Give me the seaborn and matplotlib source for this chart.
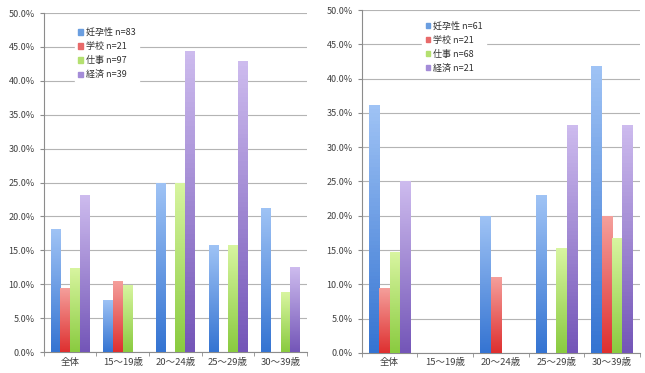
import numpy as np
import pandas as pd
import matplotlib
matplotlib.use("Agg")
import matplotlib.pyplot as plt
import matplotlib.colors as mcolors
from matplotlib.ticker import MultipleLocator, FuncFormatter
import seaborn as sns

ages = ["全体", "15～19歳", "20～24歳", "25～29歳", "30～39歳"]
series = ["妊孕性", "学校", "仕事", "経済"]

left_n = [83, 21, 97, 39]
left_fertility = [18.1, 7.7, 25.0, 15.8, 21.3]
left_school = [9.5, 10.5, 0.0, 0.0, 0.0]
left_work = [12.4, 9.9, 25.0, 15.8, 8.8]
left_economy = [23.1, 0.0, 44.4, 42.9, 12.5]

right_n = [61, 21, 68, 21]
right_fertility = [36.1, 0.0, 20.0, 23.0, 41.9]
right_school = [9.5, 0.0, 11.1, 0.0, 20.0]
right_work = [14.7, 0.0, 0.0, 15.3, 16.7]
right_economy = [25.0, 0.0, 0.0, 33.3, 33.3]

# (top colour, bottom colour) of Excel-like gradient fills
grad = {
    "妊孕性": ("#9fc3f5", "#3574d2"),
    "学校": ("#f5a09c", "#de3030"),
    "仕事": ("#d8f5a0", "#8acb40"),
    "経済": ("#cdbbee", "#7456b8"),
}
legend_col = {"妊孕性": "#6a9ee0", "学校": "#e86a6a", "仕事": "#b4e070", "経済": "#a48cd8"}

sns.set_style("white")
plt.rcParams["font.family"] = ["Noto Sans CJK JP", "DejaVu Sans"]


def make_df(vals, n):
    rows = []
    for s, v, k in zip(series, vals, n):
        lab = f"{s} n={k}"
        for a, x in zip(ages, v):
            rows.append({"age": a, "series": lab, "pct": x})
    return pd.DataFrame(rows)


def draw(ax, df):
    labels = list(df["series"].unique())
    pal = {lab: grad[s][1] for lab, s in zip(labels, series)}
    sns.barplot(data=df, x="age", y="pct", hue="series", palette=pal,
                width=0.74, ax=ax, saturation=1, errorbar=None, legend=True)
    # gradient overlay on each bar
    for cont, s in zip(ax.containers, series):
        cmap = mcolors.LinearSegmentedColormap.from_list("g", [grad[s][1], grad[s][0]])
        for p in cont.patches:
            h = p.get_height()
            if h <= 0:
                p.set_visible(False)
                continue
            x0 = p.get_x()
            w = p.get_width()
            p.set_alpha(0)
            g = np.linspace(0, 1, 64).reshape(-1, 1)
            im = ax.imshow(g, cmap=cmap, origin="lower", aspect="auto",
                           extent=(x0, x0 + w, 0, h), zorder=3)
            im.set_clip_path(p)
    ax.set_xlim(-0.5, 4.5)
    ax.set_ylim(0, 50)
    ax.yaxis.set_major_locator(MultipleLocator(5))
    ax.yaxis.set_major_formatter(FuncFormatter(lambda v, _: f"{v:.1f}%"))
    ax.grid(axis="y", color="#b4b4b4", linewidth=0.8, zorder=0)
    ax.set_axisbelow(True)
    ax.set_xlabel("")
    ax.set_ylabel("")
    for sp in ["top", "right"]:
        ax.spines[sp].set_visible(False)
    for sp in ["left", "bottom"]:
        ax.spines[sp].set_color("#8c8c8c")
        ax.spines[sp].set_linewidth(0.8)
    ax.set_xticks(np.arange(-0.5, 5, 1), minor=True)
    ax.tick_params(axis="x", which="major", length=0, labelsize=6.8, pad=4, colors="#404040")
    ax.tick_params(axis="x", which="minor", length=3, color="#8c8c8c", direction="out", bottom=True)
    ax.tick_params(axis="y", length=3, color="#8c8c8c", direction="out", left=True,
                   labelsize=6.5, colors="#404040")
    # legend with square markers
    handles, labs = ax.get_legend_handles_labels()
    for hd, s in zip(handles, series):
        hd.set_color(legend_col[s])
        hd.set_alpha(1)
    leg = ax.legend(handles, labs, loc="upper left", bbox_to_anchor=(0.1, 0.98),
                    fontsize=6.5, frameon=True, handlelength=0.5, handleheight=0.5,
                    handletextpad=0.3, labelspacing=0.55, borderpad=0.4,
                    labelcolor="#303030")
    leg.get_frame().set_edgecolor("white")
    leg.get_frame().set_facecolor("white")
    leg.get_frame().set_alpha(1)
    leg.set_zorder(5)


fig = plt.figure(figsize=(6.45, 3.73), dpi=100)
ax1 = fig.add_axes([0.068, 0.056, 0.408, 0.909])
ax2 = fig.add_axes([0.561, 0.054, 0.431, 0.919])

draw(ax1, make_df([left_fertility, left_school, left_work, left_economy], left_n))
draw(ax2, make_df([right_fertility, right_school, right_work, right_economy], right_n))
ax2.get_legend().set_bbox_to_anchor((0.2, 0.99))

fig.savefig("out.png", dpi=100)
